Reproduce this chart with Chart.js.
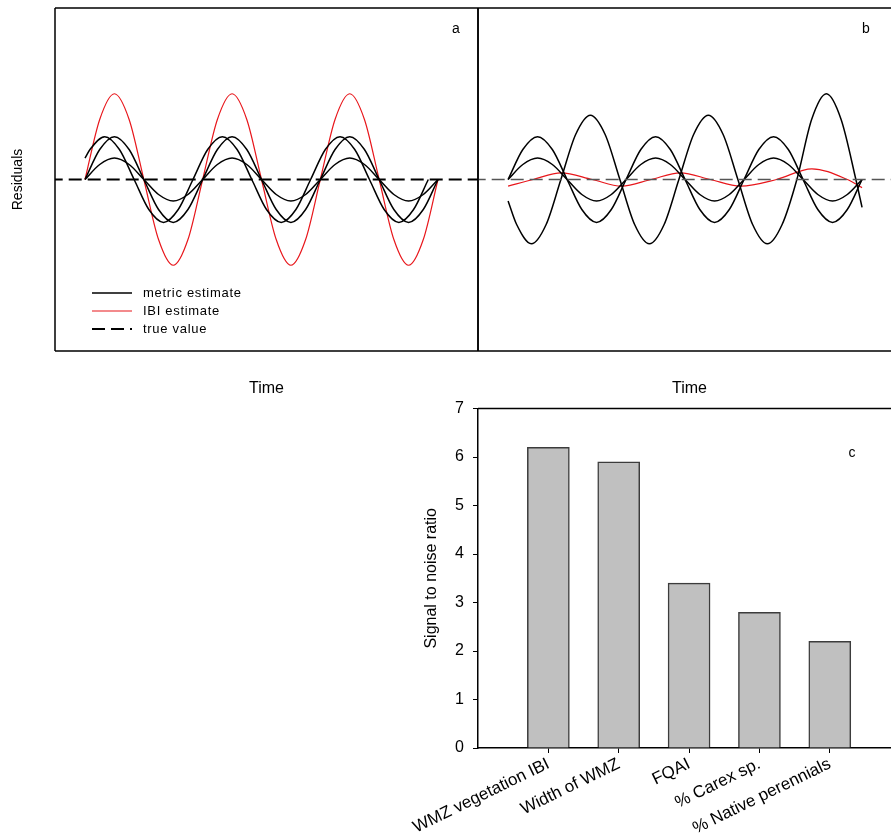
<!DOCTYPE html>
<html>
<head>
<meta charset="utf-8">
<script src="https://cdn.jsdelivr.net/npm/chart.js@4.4.0/dist/chart.umd.min.js"></script>
<style>
  html, body { margin: 0; padding: 0; background: #fff; }
  body { width: 891px; height: 839px; position: relative; overflow: hidden; }
  canvas { position: absolute; }
  #panel-a { left: 0; top: 0; }
  #panel-b { left: 477px; top: 0; }
  #panel-c { left: 380px; top: 390px; }
</style>
</head>
<body>
<canvas id="panel-a" width="480" height="400"></canvas>
<canvas id="panel-b" width="424" height="400"></canvas>
<canvas id="panel-c" width="511" height="449"></canvas>
<script>
// Time is in quarter cycles, residuals in arbitrary units
const timeHalf = [0, 0.5, 1, 1.5, 2, 2.5, 3, 3.5, 4, 4.5, 5, 5.5, 6, 6.5, 7, 7.5, 8, 8.5, 9, 9.5, 10, 10.5, 11, 11.5, 12];

// panel a
const ibiA = [0, 2.8, 4, 2.8, 0, -2.8, -4, -2.8, 0, 2.8, 4, 2.8, 0, -2.8, -4, -2.8, 0, 2.8, 4, 2.8, 0, -2.8, -4, -2.8, 0];
const metricA1 = [0, 1.4, 2, 1.4, 0, -1.4, -2, -1.4, 0, 1.4, 2, 1.4, 0, -1.4, -2, -1.4, 0, 1.4, 2, 1.4, 0, -1.4, -2, -1.4, 0];
const metricA2 = [0, 0.7, 1, 0.7, 0, -0.7, -1, -0.7, 0, 0.7, 1, 0.7, 0, -0.7, -1, -0.7, 0, 0.7, 1, 0.7, 0, -0.7, -1, -0.7, 0];
const timeShift = [0, 0.17, 0.67, 1.17, 1.67, 2.17, 2.67, 3.17, 3.67, 4.17, 4.67, 5.17, 5.67, 6.17, 6.67, 7.17, 7.67, 8.17, 8.67, 9.17, 9.67, 10.17, 10.67, 11.17, 11.67];
const metricA3 = [1.0, 1.4, 2, 1.4, 0, -1.4, -2, -1.4, 0, 1.4, 2, 1.4, 0, -1.4, -2, -1.4, 0, 1.4, 2, 1.4, 0, -1.4, -2, -1.4, 0];

// panel b
const metricB1 = [0, 1.4, 2, 1.4, 0, -1.4, -2, -1.4, 0, 1.4, 2, 1.4, 0, -1.4, -2, -1.4, 0, 1.4, 2, 1.4, 0, -1.4, -2, -1.4, 0];
const metricB2 = [0, 0.7, 1, 0.7, 0, -0.7, -1, -0.7, 0, 0.7, 1, 0.7, 0, -0.7, -1, -0.7, 0, 0.7, 1, 0.7, 0, -0.7, -1, -0.7, 0];
const timeBig = [0, 0.29, 0.79, 1.29, 1.79, 2.29, 2.79, 3.29, 3.79, 4.29, 4.79, 5.29, 5.79, 6.29, 6.79, 7.29, 7.79, 8.29, 8.79, 9.29, 9.79, 10.29, 10.79, 11.29, 11.79, 12];
const metricB3 = [-1.0, -2.1, -3, -2.1, 0, 2.1, 3, 2.1, 0, -2.1, -3, -2.1, 0, 2.1, 3, 2.1, 0, -2.1, -3, -2.1, 0, 2.8, 4, 2.8, 0, -1.3];
const timeIbiB = [0, 0.85, 1.8, 2.85, 3.85, 4.85, 5.84, 6.85, 7.88, 9.1, 10.3, 11.5, 12];
const ibiB = [-0.31, 0, 0.31, 0, -0.31, 0, 0.31, 0, -0.31, 0, 0.5, 0, -0.38];

// true value (zero residual) across the whole panel
const timeTrue = [-1.2, 13.6];
const trueValue = [0, 0];

// panel c
const snrLabels = ['WMZ vegetation IBI', 'Width of WMZ', 'FQAI', '% Carex sp.', '% Native perennials'];
const snrValues = [6.2, 5.9, 3.4, 2.8, 2.2];

Chart.defaults.font.family = '"Liberation Sans", Arial, sans-serif';
Chart.defaults.color = '#000';

const RED = '#e8161b';

const pts = (ts, vs) => ts.map((t, i) => ({ x: t, y: vs[i] }));

// box lines around the plotting area
const framePlugin = {
    id: 'frame',
    afterDraw(chart, args, opts) {
        const { ctx, chartArea: { left, top, right, bottom } } = chart;
        const sides = opts.sides || [];
        ctx.save();
        ctx.strokeStyle = '#000';
        ctx.lineWidth = 1.5;
        ctx.beginPath();
        if (sides.includes('top')) { ctx.moveTo(left, top); ctx.lineTo(right, top); }
        if (sides.includes('bottom')) { ctx.moveTo(left, bottom); ctx.lineTo(right, bottom); }
        if (sides.includes('left')) { ctx.moveTo(left, top); ctx.lineTo(left, bottom); }
        if (sides.includes('right')) { ctx.moveTo(right, top); ctx.lineTo(right, bottom); }
        ctx.stroke();
        ctx.restore();
    }
};

// panel letter
const tagPlugin = {
    id: 'tag',
    afterDraw(chart, args, opts) {
        if (!opts.text) return;
        const ctx = chart.ctx;
        ctx.save();
        ctx.font = '14px "Liberation Sans", Arial, sans-serif';
        ctx.fillStyle = '#000';
        ctx.textAlign = 'center';
        ctx.textBaseline = 'middle';
        ctx.fillText(opts.text, opts.x, opts.y);
        ctx.restore();
    }
};

// legend drawn inside panel a, styles taken from the datasets
const insideLegend = {
    id: 'insideLegend',
    afterDraw(chart, args, opts) {
        if (!opts.entries) return;
        const ctx = chart.ctx;
        ctx.save();
        ctx.font = '13px "Liberation Sans", Arial, sans-serif';
        ctx.letterSpacing = '0.7px';
        ctx.textBaseline = 'middle';
        opts.entries.forEach((idx, row) => {
            const ds = chart.data.datasets[idx];
            const y = opts.y + row * opts.rowGap;
            ctx.strokeStyle = ds.borderColor;
            ctx.lineWidth = ds.borderWidth;
            ctx.setLineDash(ds.borderDash || []);
            ctx.beginPath();
            ctx.moveTo(opts.x, y);
            ctx.lineTo(opts.x + opts.lineLength, y);
            ctx.stroke();
            ctx.setLineDash([]);
            ctx.fillStyle = '#000';
            ctx.fillText(ds.label, opts.x + opts.lineLength + 11, y);
        });
        ctx.restore();
    }
};

Chart.register(framePlugin, tagPlugin, insideLegend);

function curve(label, data, color, width, dash) {
    return {
        label: label,
        data: data,
        borderColor: color,
        borderWidth: width,
        borderDash: dash || [],
        pointRadius: 0,
        fill: false,
        cubicInterpolationMode: 'monotone'
    };
}

function residualScales(xMax, withY) {
    return {
        x: {
            type: 'linear', min: -1.02, max: xMax,
            ticks: { display: false }, grid: { display: false }, border: { display: false },
            title: { display: true, text: 'Time', font: { size: 16 }, padding: { top: 0, bottom: 2 } },
            afterFit: s => { s.height = 49; }
        },
        y: {
            display: withY, min: -8, max: 8,
            ticks: { display: false }, grid: { display: false }, border: { display: false },
            title: { display: true, text: 'Residuals', font: { size: 14 }, padding: { top: 10, bottom: 0 } },
            afterFit: s => { s.width = withY ? 55 : 0; }
        }
    };
}

// Panel a
new Chart(document.getElementById('panel-a'), {
    type: 'line',
    data: {
        datasets: [
            curve('true value', pts(timeTrue, trueValue), '#000', 2, [13, 6]),
            curve('metric estimate', pts(timeHalf, metricA1), '#000', 1.5),
            curve('metric estimate', pts(timeHalf, metricA2), '#000', 1.5),
            curve('metric estimate', pts(timeShift, metricA3), '#000', 1.5),
            curve('IBI estimate', pts(timeHalf, ibiA), RED, 1.2)
        ]
    },
    options: {
        animation: false,
        responsive: false,
        layout: { padding: { top: 8, right: 2 } },
        plugins: {
            legend: { display: false },
            tooltip: { enabled: false },
            frame: { sides: ['top', 'right', 'bottom', 'left'] },
            tag: { text: 'a', x: 456, y: 29 },
            insideLegend: { entries: [1, 4, 0], x: 92, y: 293, rowGap: 18, lineLength: 40 }
        },
        scales: residualScales(13.36, true)
    }
});

// Panel b
new Chart(document.getElementById('panel-b'), {
    type: 'line',
    data: {
        datasets: [
            curve('true value', pts(timeTrue, trueValue), '#555', 1.5, [13, 6]),
            curve('metric estimate', pts(timeHalf, metricB1), '#000', 1.5),
            curve('metric estimate', pts(timeHalf, metricB2), '#000', 1.5),
            curve('metric estimate', pts(timeBig, metricB3), '#000', 1.5),
            curve('IBI estimate', pts(timeIbiB, ibiB), RED, 1.2)
        ]
    },
    options: {
        animation: false,
        responsive: false,
        layout: { padding: { top: 8, left: 1, right: 0 } },
        plugins: {
            legend: { display: false },
            tooltip: { enabled: false },
            frame: { sides: ['top', 'bottom', 'left'] },
            tag: { text: 'b', x: 389, y: 29 }
        },
        scales: residualScales(13.32, false)
    }
});

// Panel c
new Chart(document.getElementById('panel-c'), {
    type: 'bar',
    data: {
        datasets: [{
            data: snrValues.map((v, i) => ({ x: i + 1, y: v })),
            backgroundColor: '#c0c0c0',
            borderColor: '#3c3c3c',
            borderWidth: 1.5,
            barThickness: 42
        }]
    },
    options: {
        animation: false,
        responsive: false,
        layout: { padding: { top: 14 } },
        plugins: {
            legend: { display: false },
            tooltip: { enabled: false },
            frame: { sides: ['top'] },
            tag: { text: 'c', x: 472, y: 63 }
        },
        scales: {
            x: {
                type: 'linear', min: 0, max: 5.87, offset: false,
                afterBuildTicks: s => { s.ticks = snrLabels.map((_, i) => ({ value: i + 1 })); },
                ticks: {
                    autoSkip: false, minRotation: 26, maxRotation: 26, padding: 1,
                    font: { size: 17 },
                    callback: v => snrLabels[v - 1]
                },
                grid: { drawOnChartArea: false, offset: false, tickLength: 5, color: '#000' },
                border: { color: '#000', width: 1.5 },
                afterFit: s => { s.height = 91; }
            },
            y: {
                min: 0, max: 7,
                ticks: { stepSize: 1, padding: 9, font: { size: 16 } },
                grid: { drawOnChartArea: false, tickLength: 5, color: '#000' },
                border: { color: '#000', width: 1.5 },
                title: { display: true, text: 'Signal to noise ratio', font: { size: 16 }, padding: { top: 42, bottom: 0 } },
                afterFit: s => { s.width = 98; }
            }
        }
    }
});
</script>
</body>
</html>
